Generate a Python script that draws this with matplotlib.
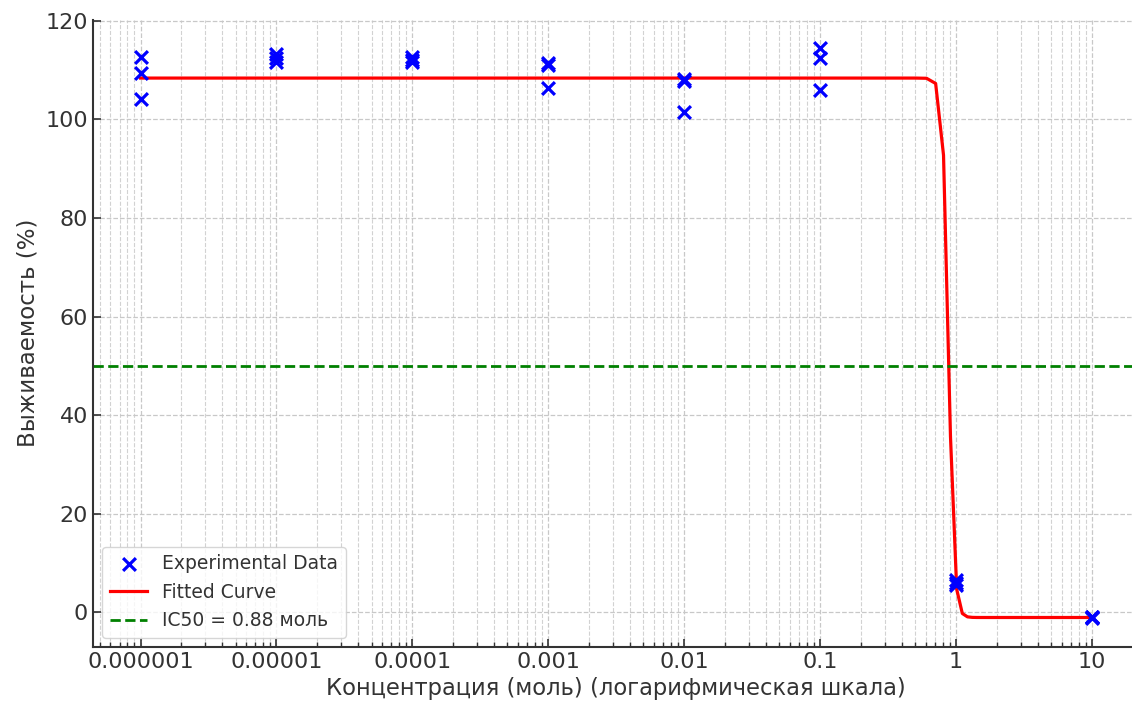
#!/usr/bin/env python3

import numpy as np
import matplotlib
matplotlib.use("Agg")
import matplotlib.pyplot as plt
from matplotlib.ticker import FuncFormatter, FixedLocator, LogLocator, NullFormatter

# concentrations (mol), three replicates each
concentrations = [1e-6, 1e-5, 1e-4, 1e-3, 1e-2, 1e-1, 1.0, 10.0]
rep1 = [112.6, 113.3, 112.7, 111.5, 108.2, 114.5, 6.5, -1.0]
rep2 = [109.5, 112.5, 112.1, 111.1, 107.8, 112.4, 5.9, -1.1]
rep3 = [104.1, 111.7, 111.7, 106.4, 101.6, 106.0, 5.5, -1.3]

# fitted 4PL parameters
top = 108.4
bottom = -1.1
ic50 = 0.88
hill = 21.0


def four_pl(x, top, bottom, ic50, hill):
    return bottom + (top - bottom) / (1 + (x / ic50) ** hill)


def fmt(x, pos):
    return np.format_float_positional(x, trim='-')


def draw():
    conc = np.array(concentrations)
    x_all = np.concatenate([conc, conc, conc])
    y_all = np.concatenate([rep1, rep2, rep3])

    x_fit = np.linspace(conc.min(), conc.max(), 100)
    y_fit = four_pl(x_fit, top, bottom, ic50, hill)

    fig = plt.figure(figsize=(11.32, 7.05), dpi=100)
    ax = fig.add_axes([93 / 1132, 58 / 705, 1046.6 / 1132, 627.5 / 705])

    ax.scatter(x_all, y_all, marker='x', color='blue', s=85, linewidths=2.3,
               label='Experimental Data', zorder=3)
    ax.plot(x_fit, y_fit, color='red', linewidth=2.3, label='Fitted Curve', zorder=2)
    ax.axhline(50, color='green', linestyle='--', linewidth=2.0,
               label='IC50 = %.2f моль' % ic50)

    ax.set_xscale('log')
    ax.xaxis.set_major_locator(FixedLocator(concentrations))
    ax.xaxis.set_minor_locator(LogLocator(base=10, subs=np.arange(2, 10)))
    ax.xaxis.set_major_formatter(FuncFormatter(fmt))
    ax.xaxis.set_minor_formatter(NullFormatter())
    ax.set_yticks([0, 20, 40, 60, 80, 100, 120])

    ax.grid(True, which='major', linestyle='--', color='#c8c8c8', linewidth=0.9)
    ax.grid(True, which='minor', axis='x', linestyle='--', color='#d2d2d2', linewidth=0.8)
    ax.set_axisbelow(True)

    for side in ['top', 'right']:
        ax.spines[side].set_visible(False)
    for side in ['left', 'bottom']:
        ax.spines[side].set_color('#333333')
        ax.spines[side].set_linewidth(1.5)

    ax.tick_params(which='both', direction='in', colors='#333333', labelsize=16)
    ax.tick_params(which='major', length=6, width=1.2)
    ax.tick_params(which='minor', length=3.5, width=1.0)

    ax.set_xlabel('Концентрация (моль) (логарифмическая шкала)', fontsize=16.3, color='#333333')
    ax.set_ylabel('Выживаемость (%)', fontsize=16.5, color='#333333')

    leg = ax.legend(loc='lower left', fontsize=13.5, framealpha=0.8, edgecolor='#cccccc')
    for t in leg.get_texts():
        t.set_color('#333333')

    fig.savefig('out.png', dpi=100)
    plt.close(fig)


draw()
